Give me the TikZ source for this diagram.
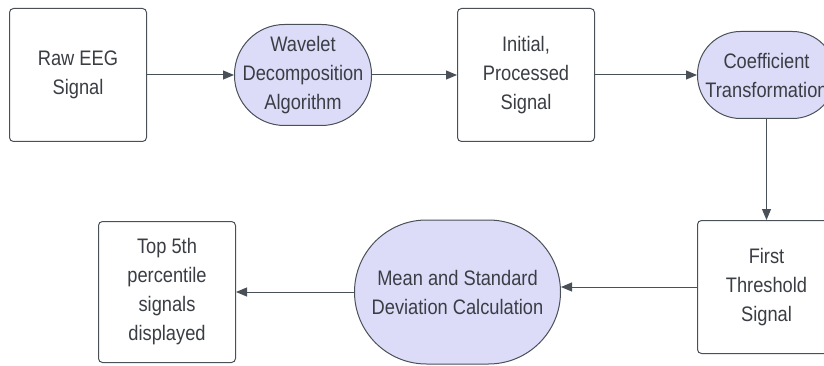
\documentclass[tikz,border=0pt]{standalone}
\usepackage{fontspec}
\setmainfont{Liberation Sans}[FakeStretch=0.87]
\usetikzlibrary{positioning,arrows.meta}
\definecolor{linegray}{HTML}{4A5058}
\definecolor{textgray}{HTML}{3A3E44}
\definecolor{lavender}{HTML}{DCDCF8}
\tikzset{
  stepbox/.style={draw=linegray, line width=1pt, rounded corners=4pt, fill=white,
    align=center, text=textgray, inner sep=0pt},
  procoval/.style={draw=linegray, line width=1pt, fill=lavender,
    align=center, text=textgray, inner sep=0pt},
  flow/.style={draw=linegray, line width=1pt, -{Triangle[length=11pt,width=9pt]}}
}
\begin{document}
\begin{tikzpicture}[x=1pt, y=-1pt, node distance=90pt,
  font=\fontsize{21pt}{29pt}\selectfont]
    \useasboundingbox (0,0) rectangle (824,366);
    % Upper row
    \node[stepbox, minimum width=137pt, minimum height=133pt] (raw) at (78,75) {Raw EEG\\Signal};
    \node[procoval, rounded corners=50pt, minimum width=137pt, minimum height=101pt, right=87pt of raw] (wavelet) {Wavelet\\Decomposition\\Algorithm};
    \node[stepbox, minimum width=137pt, minimum height=133pt, right=85pt of wavelet] (initial) {Initial,\\Processed\\Signal};
    \node[procoval, rounded corners=43pt, minimum width=138pt, minimum height=87pt, right=102pt of initial] (coef) {Coefficient\\Transformation};
    % Lower row
    \node[stepbox, minimum width=138pt, minimum height=133pt, below=101pt of coef] (first) {First\\Threshold\\Signal};
    \node[procoval, rounded corners=72pt, minimum width=206pt, minimum height=144pt, left=136pt of first, yshift=-5pt] (stats) {Mean and Standard\\Deviation Calculation};
    \node[stepbox, minimum width=137pt, minimum height=141pt, left=118pt of stats] (top) {Top 5th\\percentile\\signals\\displayed};
    % Connectors
    \draw[flow] (raw) -- (wavelet);
    \draw[flow] (wavelet) -- (initial);
    \draw[flow] (initial) -- (coef);
    \draw[flow] (coef) -- (first);
    \draw[flow] (first.west) -- (first.west -| stats.east);
    \draw[flow] (stats) -- (top);
\end{tikzpicture}
\end{document}
